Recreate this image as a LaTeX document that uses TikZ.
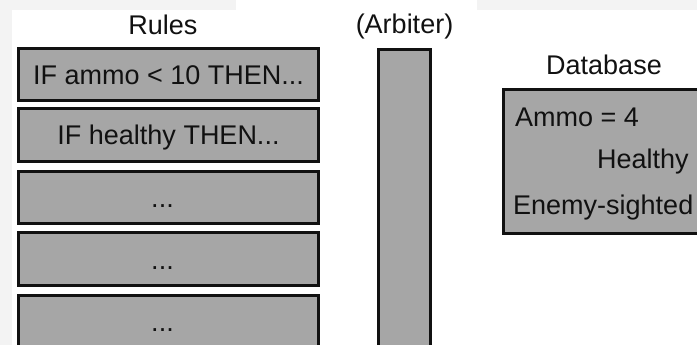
\documentclass[tikz,border=0pt]{standalone}
\usepackage{fontspec}
\setmainfont{Liberation Sans}
\definecolor{boxgray}{HTML}{A6A6A6}
\definecolor{pagegray}{HTML}{F3F3F3}
\definecolor{ink}{HTML}{111111}
\begin{document}
\begin{tikzpicture}[x=1pt,y=-1pt,
  every node/.style={font=\fontsize{27pt}{32pt}\selectfont, text=ink},
  rulebox/.style={draw=ink, fill=boxgray, line width=3pt, minimum width=300pt,
    minimum height=52pt, inner sep=0pt, outer sep=0pt, text height=20pt, text depth=0pt},
  tallbox/.style={draw=ink, fill=boxgray, line width=3pt, inner sep=0pt, outer sep=0pt},
  lbl/.style={anchor=base, inner sep=0pt},
  dbtext/.style={anchor=base west, inner sep=0pt}]
\useasboundingbox (0,0) rectangle (697,345);
\clip (0,0) rectangle (697,345);
% page background
\fill[pagegray] (0,0) rectangle (697,345);
\fill[white] (12,10) rectangle (697,345);
\fill[white] (236,0) rectangle (477,10);
% labels
\node[lbl] (rules) at (163,35) {Rules};
\node[lbl] (arblbl) at (404.5,34) {(Arbiter)};
\node[lbl] (dblbl) at (604,75) {Database};
% rule boxes
\node[rulebox] (r1) at (168.5,74.5) {IF ammo < 10 THEN...};
\node[rulebox, minimum height=53pt] (r2) at (168.5,135) {IF healthy THEN...};
\node[rulebox] (r3) at (168.5,197.5) {...\hspace*{12pt}};
\node[rulebox, minimum height=53pt] (r4) at (168.5,259) {...\hspace*{12pt}};
\node[rulebox] (r5) at (168.5,321.5) {...\hspace*{12pt}};
% arbiter
\node[tallbox, minimum width=52pt, minimum height=320pt, anchor=north] (arb) at (404.5,49.5) {};
% database
\node[tallbox, minimum width=230pt, minimum height=144pt, anchor=north west] (db) at (503.5,89.5) {};
\node[dbtext] (ammo) at (515,126) {Ammo = 4};
\node[dbtext] (healthy) at (597,168) {Healthy};
\node[dbtext] (enemy) at (513,214) {Enemy-sighted};
\end{tikzpicture}
\end{document}
